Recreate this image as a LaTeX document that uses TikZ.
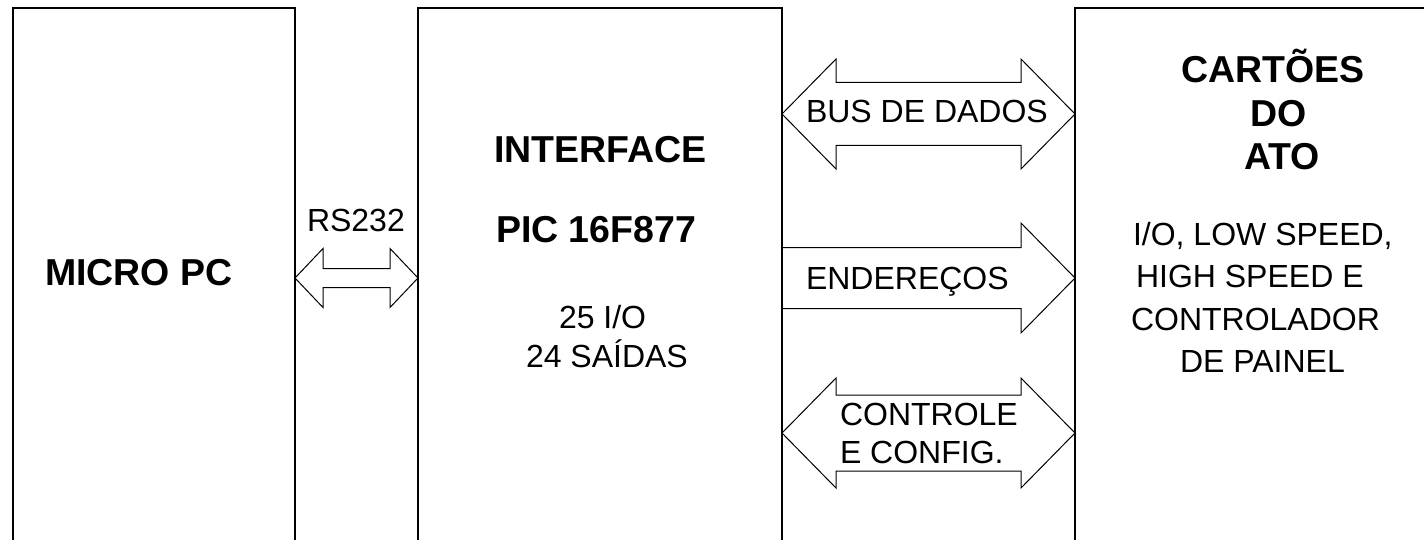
\documentclass[tikz,border=0pt]{standalone}
\usepackage{fontspec}
\setmainfont{Liberation Sans}
\usetikzlibrary{calc}
% double-headed block arrow: #1 left tip, #2 right tip, #3 head length, #4 shaft half width, #5 head half width
\newcommand\dblarr[5]{%
  \draw[arr] (#1) -- ($(#1)+(#3,-#5)$) -- ($(#1)+(#3,-#4)$) -- ($(#2)+(-#3,-#4)$)
    -- ($(#2)+(-#3,-#5)$) -- (#2) -- ($(#2)+(-#3,#5)$) -- ($(#2)+(-#3,#4)$)
    -- ($(#1)+(#3,#4)$) -- ($(#1)+(#3,#5)$) -- cycle;}
\begin{document}
\begin{tikzpicture}[x=1pt,y=-1pt,
  blk/.style={draw,line width=1.5pt,rectangle,inner sep=0pt,outer sep=0pt},
  arr/.style={draw,line width=1pt,line join=miter},
  lbl/.style={inner sep=0pt,outer sep=0pt,anchor=base west,font=\fontsize{32}{38}\selectfont},
  blbl/.style={inner sep=0pt,outer sep=0pt,anchor=base west,font=\fontsize{37.5}{44}\selectfont\bfseries}]
\useasboundingbox (0,0) rectangle (1424,540);
\clip (0,0) rectangle (1424,540);
\fill[white] (0,0) rectangle (1424,540);

% blocks (open at the bottom / right edge of the picture)
\node[blk,minimum width=282pt,minimum height=592pt] (pc) at (154,304) {};
\node[blk,minimum width=364pt,minimum height=592pt] (iface) at (600,304) {};
\node[blk,minimum width=425pt,minimum height=592pt] (ato) at (1287.5,304) {};

% connector end points on the block borders
\coordinate (rsL) at (pc.east |- 0,278);
\coordinate (rsR) at (iface.west |- 0,278);
\coordinate (busL) at (iface.east |- 0,114);
\coordinate (busR) at (ato.west |- 0,114);
\coordinate (endL) at (iface.east |- 0,278);
\coordinate (endR) at (ato.west |- 0,278);
\coordinate (ctlL) at (iface.east |- 0,433);
\coordinate (ctlR) at (ato.west |- 0,433);

% block arrows
\dblarr{rsL}{rsR}{28}{9.5}{29.5}
\dblarr{busL}{busR}{54}{31.5}{55}
\dblarr{ctlL}{ctlR}{54}{38}{55}
\draw[arr] ($(endL)+(0,-30.5)$) -- ($(endR)+(-54,-30.5)$) -- ($(endR)+(-54,-55)$) -- (endR)
  -- ($(endR)+(-54,55)$) -- ($(endR)+(-54,30.5)$) -- ($(endL)+(0,30.5)$);

% texts
\node[lbl] (trs) at (307,231) {RS232};
\node[blbl] (tpc) at (45,285) {MICRO PC};
\node[blbl] (tif) at (494,163) {INTERFACE};
\node[blbl] (tpic) at (496,243) {PIC 16F877};
\node[lbl] (tio) at (559,328) {25 I/O};
\node[lbl] (tsai) at (526,367) {24 SAÍDAS};
\node[lbl] (tbus) at (806,123) {BUS DE DADOS};
\node[lbl] (tend) at (806,289) {ENDEREÇOS};
\node[lbl] (tctl) at (840,425) {CONTROLE};
\node[lbl] (tcfg) at (840,463) {E CONFIG.};
\node[blbl] (tcar) at (1181,83) {CARTÕES};
\node[blbl] (tdo) at (1250,127) {DO};
\node[blbl] (tato) at (1244,170) {ATO};
\node[lbl] (tl1) at (1133,245) {I/O, LOW SPEED,};
\node[lbl] (tl2) at (1136,287) {HIGH SPEED E};
\node[lbl] (tl3) at (1131,330) {CONTROLADOR};
\node[lbl] (tl4) at (1180,372) {DE PAINEL};
\end{tikzpicture}
\end{document}
